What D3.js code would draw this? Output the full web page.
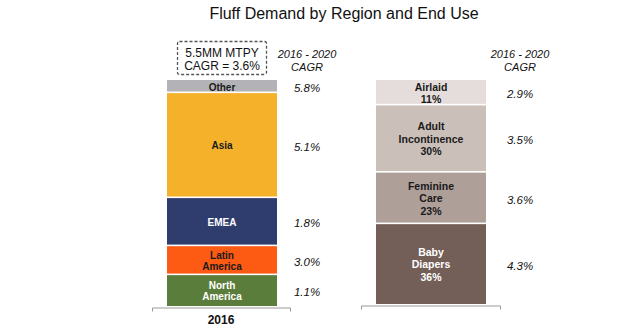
<!DOCTYPE html>
<html>
<head>
<meta charset="utf-8">
<script src="https://cdn.jsdelivr.net/npm/d3@7"></script>
<style>
  html, body { margin: 0; padding: 0; background: #fff; }
  svg { display: block; font-family: "Liberation Sans", Arial, sans-serif; }
</style>
</head>
<body>
<svg id="chart" width="640" height="333"></svg>
<script>
// Fluff demand, 2016, by region (thousand metric tonnes, total 5.5MM)
const regions = ["North America", "Latin America", "EMEA", "Asia", "Other"];
const regionLabels = [["North", "America"], ["Latin", "America"], ["EMEA"], ["Asia"], ["Other"]];
const regionVolume = [770, 705, 1170, 2555, 300];
const regionCagr = ["1.1%", "3.0%", "1.8%", "5.1%", "5.8%"];
const regionColors = ["#5b7d3b", "#fd5a14", "#2f3d6e", "#f5b12a", "#b3b3b7"];
const regionText = ["#fff", "#1a1a1a", "#fff", "#1a1a1a", "#1a1a1a"];

// Fluff demand by end use (share of total, %)
const endUses = ["Baby Diapers", "Feminine Care", "Adult Incontinence", "Airlaid"];
const endUseLabels = [["Baby", "Diapers"], ["Feminine", "Care"], ["Adult", "Incontinence"], ["Airlaid"]];
const endUseShare = [36, 23, 30, 11];
const endUseCagr = ["4.3%", "3.6%", "3.5%", "2.9%"];
const endUseColors = ["#745f58", "#af9f99", "#cbbfba", "#e5dddb"];
const endUseText = ["#fff", "#1a1a1a", "#1a1a1a", "#1a1a1a"];

const columns = ["region", "enduse"];
const yearLabel = ["2016"];
const totalLabel = ["5.5MM MTPY", "CAGR = 3.6%"];
const cagrHeader = ["2016 - 2020", "CAGR"];
const title = "Fluff Demand by Region and End Use";

const svg = d3.select("#chart");

// Horizontal placement of the two stacked columns
const x = d3.scaleBand().domain(columns).range([167, 486]).paddingInner(0.4737).paddingOuter(0);
const bw = x.bandwidth();

const yRegion = d3.scaleLinear().domain([0, d3.sum(regionVolume)]).range([306, 80]);
const yEndUse = d3.scaleLinear().domain([0, d3.sum(endUseShare)]).range([304, 80]);

function stackRows(values) {
  let acc = 0;
  return values.map(v => { const r = { y0: acc, y1: acc + v }; acc += v; return r; });
}

svg.append("text")
  .attr("x", 344).attr("y", 19)
  .attr("text-anchor", "middle")
  .attr("font-size", 16)
  .attr("fill", "#111")
  .text(title);

function drawColumn(key, y, values, labels, colors, textColors, cagr, cagrX, fontSize, lineH) {
  const rows = stackRows(values);
  const g = svg.append("g");
  const gap = 0.8;
  const last = rows.length - 1;
  g.selectAll("rect").data(rows).join("rect")
    .attr("x", x(key))
    .attr("width", bw)
    .attr("y", (d, i) => y(d.y1) + (i === last ? 0 : gap))
    .attr("height", (d, i) => Math.max(0, y(d.y0) - y(d.y1) - (i === last ? 0 : gap) - (i === 0 ? 0 : gap)))
    .attr("fill", (d, i) => colors[i]);

  rows.forEach((d, i) => {
    const cy = (y(d.y0) + y(d.y1)) / 2;
    const lines = labels[i];
    const t = g.append("text")
      .attr("text-anchor", "middle")
      .attr("font-size", fontSize)
      .attr("font-weight", "bold")
      .attr("fill", textColors[i]);
    lines.forEach((ln, j) => {
      t.append("tspan")
        .attr("x", x(key) + bw / 2)
        .attr("y", cy + (j - (lines.length - 1) / 2) * lineH + fontSize * 0.35 + 1)
        .text(ln);
    });
    g.append("text")
      .attr("x", cagrX)
      .attr("y", cy + 2 + 4)
      .attr("text-anchor", "middle")
      .attr("font-size", 11.5)
      .attr("font-style", "italic")
      .attr("fill", "#111")
      .text(cagr[i]);
  });
}

const endUseFull = endUseLabels.map((l, i) => l.concat([endUseShare[i] + "%"]));

drawColumn("region", yRegion, regionVolume, regionLabels, regionColors, regionText, regionCagr, 307, 10, 11);
drawColumn("enduse", yEndUse, endUseShare, endUseFull, endUseColors, endUseText, endUseCagr, 520, 10.5, 12.5);

// CAGR column headers
[307, 520].forEach(cx => {
  const t = svg.append("text")
    .attr("text-anchor", "middle")
    .attr("font-size", 11)
    .attr("font-style", "italic")
    .attr("fill", "#111");
  cagrHeader.forEach((ln, j) => {
    t.append("tspan").attr("x", cx).attr("y", 58 + j * 12.5).text(ln);
  });
});

// Dashed total box above the region column
svg.append("rect")
  .attr("x", 177.5).attr("y", 41.5)
  .attr("width", 89).attr("height", 33)
  .attr("rx", 2)
  .attr("fill", "none")
  .attr("stroke", "#555")
  .attr("stroke-width", 1.3)
  .attr("stroke-dasharray", "3,2");
const bt = svg.append("text")
  .attr("text-anchor", "middle")
  .attr("font-size", 12)
  .attr("fill", "#111");
totalLabel.forEach((ln, j) => {
  bt.append("tspan").attr("x", 222).attr("y", 57 + j * 13).text(ln);
});

// Baselines under each column
const axisRegion = d3.axisBottom(d3.scaleBand().domain(yearLabel).range([152, 290]))
  .tickSizeInner(0).tickSizeOuter(4).tickPadding(8);
const ax1 = svg.append("g").attr("transform", "translate(0,307.5)").call(axisRegion);
ax1.select(".domain").attr("stroke", "#999");
ax1.selectAll(".tick text")
  .attr("font-family", "Liberation Sans, Arial, sans-serif")
  .attr("font-size", 12).attr("font-weight", "bold").attr("fill", "#111");

const axisEndUse = d3.axisBottom(d3.scaleBand().domain([]).range([361, 500]))
  .tickSizeOuter(4);
const ax2 = svg.append("g").attr("transform", "translate(0,305.5)").call(axisEndUse);
ax2.select(".domain").attr("stroke", "#999");
</script>
</body>
</html>
